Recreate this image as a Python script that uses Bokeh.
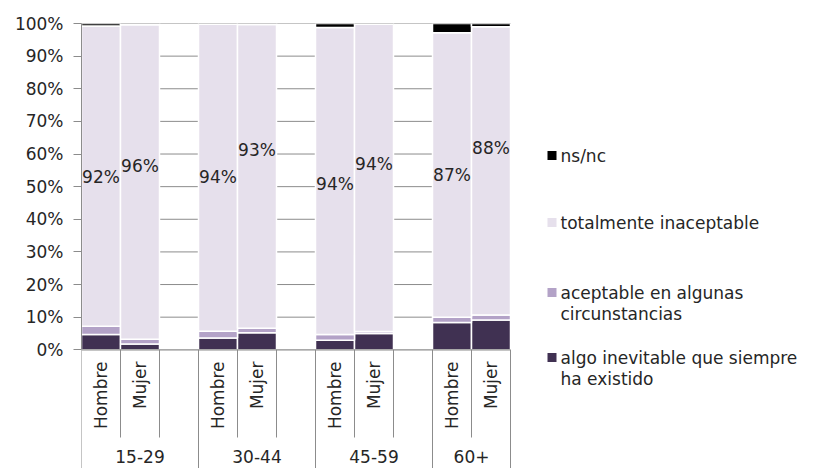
import numpy as np
from bokeh.plotting import figure
from bokeh.models import ColumnDataSource, Range1d, FixedTicker
from bokeh.core.properties import value
from bokeh.embed import file_html
from bokeh.resources import INLINE

# ---------------- data ----------------
groups = ["15-29", "30-44", "45-59", "60+"]
sexes = ["Hombre", "Mujer"]
series_names = ["algo inevitable que siempre\nha existido",
                "aceptable en algunas\ncircunstancias",
                "totalmente inaceptable",
                "ns/nc"]
algo = [4.7, 1.8, 3.6, 5.2, 2.9, 5.0, 8.4, 9.1]
aceptable = [2.5, 1.4, 2.1, 1.4, 1.8, 0.6, 1.6, 1.6]
inaceptable = [92.0, 96.4, 94.1, 93.1, 94.1, 94.2, 87.2, 88.3]
nsnc = [0.8, 0.4, 0.2, 0.3, 1.2, 0.2, 2.8, 1.0]
y_ticks = [0, 10, 20, 30, 40, 50, 60, 70, 80, 90, 100]
y_tick_labels = ["0%", "10%", "20%", "30%", "40%", "50%", "60%", "70%", "80%", "90%", "100%"]

# ---------------- styles ----------------
colors = ["#403152", "#b3a2c7", "#e6e0ec", "#000000"]
label_lift_px = [-1, 16, 1, 26, -3, 14, 0, 23]   # manual label nudges (screen px, up)
FONT = "DejaVu Sans"
FS = "17px"
TXT = "#262626"
GRID = "#8c8c8c"

W, H = 810, 468
LEFT, TOP = 81, 23
SLOT_PX = 39.0
PX_PER_PCT = 3.263
ZERO_PX = 349.3  # page-y of 0%


def xd(px):
    return (px - LEFT) / SLOT_PX


def yd(py):
    return (ZERO_PX - py) / PX_PER_PCT


# slot layout: Hombre, Mujer, blank per group (no blank after the last)
bar_x = []
group_spans = []
short_bounds, long_bounds = [], [0.0]
slot = 0
for gi, g in enumerate(groups):
    start = slot
    for si, s in enumerate(sexes):
        bar_x.append(slot + 0.5)
        slot += 1
        if si < len(sexes) - 1:
            short_bounds.append(float(slot))
    if gi < len(groups) - 1:
        short_bounds.append(float(slot))
        slot += 1
    long_bounds.append(float(slot))
    group_spans.append((start, slot))
n_slots = slot

x_end = (W - LEFT) / SLOT_PX
y_top = 100.0
y_bottom = 100.0 - (H - TOP) / PX_PER_PCT

p = figure(width=W, height=H, output_backend="svg", toolbar_location=None,
           x_range=Range1d(0, x_end), y_range=Range1d(y_bottom, y_top),
           min_border_left=LEFT, min_border_top=TOP, min_border_right=0, min_border_bottom=0,
           x_axis_location=None)
p.outline_line_color = None
p.xgrid.visible = False
p.ygrid.visible = False
p.background_fill_color = "white"
p.border_fill_color = "white"

yax = p.yaxis[0]
yax.ticker = FixedTicker(ticks=y_ticks)
yax.major_label_overrides = {t: l for t, l in zip(y_ticks, y_tick_labels)}
yax.bounds = (0, 100)
yax.axis_line_color = GRID
yax.major_tick_line_color = GRID
yax.major_tick_out = 8
yax.major_tick_in = 0
yax.minor_tick_line_color = None
yax.major_label_standoff = 10
yax.major_label_text_font = FONT
yax.major_label_text_font_size = FS
yax.major_label_text_color = TXT

# gridlines (within the plot area only)
grid_y = y_ticks[1:]
p.segment(x0=[0] * len(grid_y), x1=[n_slots] * len(grid_y), y0=grid_y, y1=grid_y,
          line_color=GRID, line_width=1)

# stacked bars
stack = np.array([algo, aceptable, inaceptable, nsnc])
tops = np.cumsum(stack, axis=0)
bottoms = tops - stack
for k in range(stack.shape[0]):
    p.vbar(x=bar_x, width=1.0, bottom=bottoms[k], top=tops[k],
           fill_color=colors[k], line_color="white", line_width=1.5)

# horizontal axis line
p.segment(x0=[0], x1=[n_slots], y0=[0], y1=[0], line_color=GRID, line_width=1.2)

# data labels on "totalmente inaceptable"
mid = (bottoms[2] + tops[2]) / 2 + np.array(label_lift_px) / PX_PER_PCT
lab_src = ColumnDataSource(dict(x=bar_x, y=mid, t=["%d%%" % round(v) for v in inaceptable]))
p.text(x="x", y="y", text="t", source=lab_src, text_align="center", text_baseline="middle",
       text_font=value(FONT), text_font_size=FS, text_color=TXT)

# category axis separators
y_short = yd(437)
p.segment(x0=short_bounds, x1=short_bounds, y0=[0] * len(short_bounds), y1=[y_short] * len(short_bounds),
          line_color=GRID, line_width=1)
p.segment(x0=long_bounds, x1=long_bounds, y0=[0] * len(long_bounds), y1=[y_bottom] * len(long_bounds),
          line_color=GRID, line_width=1)

# sub-category labels (rotated)
sub_labels = [s for g in groups for s in sexes]
p.text(x=bar_x, y=[yd(361)] * len(bar_x), text=sub_labels, angle=np.pi / 2,
       text_align="right", text_baseline="middle",
       text_font=value(FONT), text_font_size=FS, text_color=TXT)

# group labels
gx = [(a + b) / 2 for a, b in group_spans]
p.text(x=gx, y=[yd(456)] * len(gx), text=groups, text_align="center", text_baseline="middle",
       text_font=value(FONT), text_font_size=FS, text_color=TXT)

# legend (drawn manually, top item = last series)
leg_first_y = [357, 292, 222, 155]   # page y of first line for each series
line_gap = 21
sq_x, sq_y, sq_c = [], [], []
lt_x, lt_y, lt_t = [], [], []
for k, name in enumerate(series_names):
    sq_x.append(xd(551.5))
    sq_y.append(yd(leg_first_y[k]))
    sq_c.append(colors[k])
    for li, line in enumerate(name.split("\n")):
        lt_x.append(xd(560))
        lt_y.append(yd(leg_first_y[k] + li * line_gap))
        lt_t.append(line)
p.rect(x=sq_x, y=sq_y, width=9, height=9, width_units="screen", height_units="screen",
       fill_color=sq_c, line_color=None)
p.text(x=lt_x, y=lt_y, text=lt_t, text_align="left", text_baseline="middle",
       text_font=value(FONT), text_font_size=FS, text_color=TXT)

open("out.html", "w").write(file_html(p, INLINE))
